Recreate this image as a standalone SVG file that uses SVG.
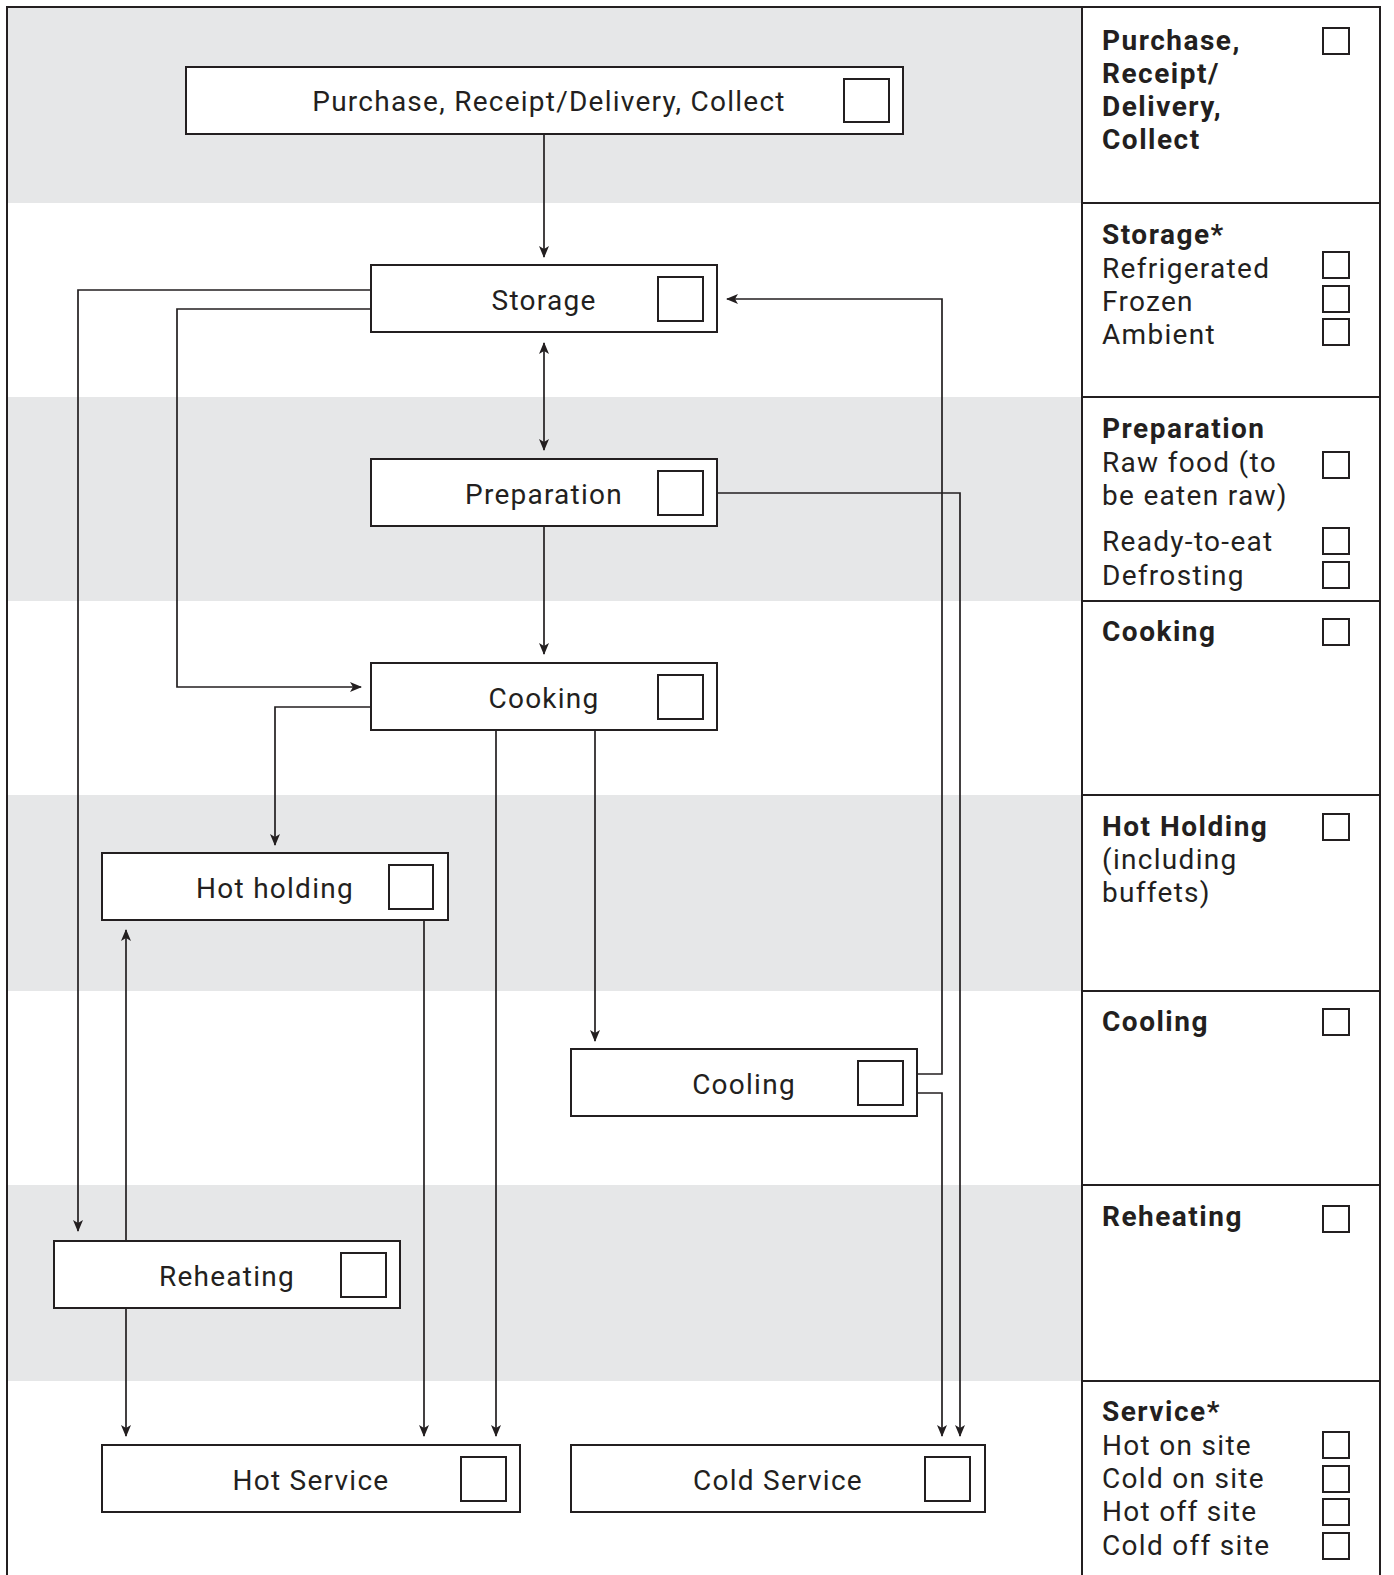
<svg xmlns="http://www.w3.org/2000/svg" width="1394" height="1575" viewBox="0 0 1394 1575">
<style>
.band{fill:#e6e7e8}
.frame{fill:none;stroke:#231f20;stroke-width:2}
.box{fill:#ffffff;stroke:#231f20;stroke-width:2}
.cb{fill:#ffffff;stroke:#231f20;stroke-width:2}
.lbl{font-family:Roboto,"Liberation Sans",sans-serif;font-size:28px;fill:#231f20;text-anchor:middle;letter-spacing:1.25px}
.rt{font-family:Roboto,"Liberation Sans",sans-serif;font-size:28px;fill:#231f20;letter-spacing:1.3px}
.rb{font-weight:bold;letter-spacing:1.5px}
.conn{fill:none;stroke:#231f20;stroke-width:1.7}
</style>
<defs>
<marker id="ah" markerWidth="12" markerHeight="10" refX="11" refY="5" orient="auto-start-reverse" markerUnits="userSpaceOnUse">
<path d="M0,0 L12,5 L0,10 L3,5 Z" fill="#231f20"/>
</marker>
</defs>
<rect width="1394" height="1575" fill="#ffffff"/>
<g id="bands">
<rect class="band" x="7" y="7" width="1075" height="196"/>
<rect class="band" x="7" y="397" width="1075" height="204"/>
<rect class="band" x="7" y="795" width="1075" height="196"/>
<rect class="band" x="7" y="1185" width="1075" height="196"/>
</g>
<g id="frame">
<path class="frame" d="M7,1575 V7 H1380 V1575"/>
<path class="frame" d="M1082,7 V1575"/>
<path class="frame" d="M1082,203 H1380 M1082,397 H1380 M1082,601 H1380 M1082,795 H1380 M1082,991 H1380 M1082,1185 H1380 M1082,1381 H1380"/>
</g>
<g id="connectors">
<path class="conn" d="M544,134 V257" marker-end="url(#ah)"/>
<path class="conn" d="M544,343 V450" marker-start="url(#ah)" marker-end="url(#ah)"/>
<path class="conn" d="M544,526 V654" marker-end="url(#ah)"/>
<path class="conn" d="M371,290 H78 V1231" marker-end="url(#ah)"/>
<path class="conn" d="M371,309 H177 V687 H361" marker-end="url(#ah)"/>
<path class="conn" d="M371,707 H275 V845" marker-end="url(#ah)"/>
<path class="conn" d="M496,730 V1436" marker-end="url(#ah)"/>
<path class="conn" d="M595,730 V1041" marker-end="url(#ah)"/>
<path class="conn" d="M424,920 V1436" marker-end="url(#ah)"/>
<path class="conn" d="M126,1241 V930" marker-end="url(#ah)"/>
<path class="conn" d="M126,1308 V1436" marker-end="url(#ah)"/>
<path class="conn" d="M917,1074 H942 V299 H727" marker-end="url(#ah)"/>
<path class="conn" d="M917,1093 H942 V1436" marker-end="url(#ah)"/>
<path class="conn" d="M717,493 H960 V1436" marker-end="url(#ah)"/>
</g>
<g id="node-purchase">
<rect class="box" x="186" y="67" width="717" height="67"/>
<text class="lbl" x="549" y="111">Purchase, Receipt/Delivery, Collect</text>
<rect class="cb" x="844" y="79" width="45" height="43"/>
</g>
<g id="node-storage">
<rect class="box" x="371" y="265" width="346" height="67"/>
<text class="lbl" x="544" y="310">Storage</text>
<rect class="cb" x="658" y="277" width="45" height="44"/>
</g>
<g id="node-preparation">
<rect class="box" x="371" y="459" width="346" height="67"/>
<text class="lbl" x="544" y="504">Preparation</text>
<rect class="cb" x="658" y="471" width="45" height="44"/>
</g>
<g id="node-cooking">
<rect class="box" x="371" y="663" width="346" height="67"/>
<text class="lbl" x="544" y="708">Cooking</text>
<rect class="cb" x="658" y="675" width="45" height="44"/>
</g>
<g id="node-hotholding">
<rect class="box" x="102" y="853" width="346" height="67"/>
<text class="lbl" x="275" y="898">Hot holding</text>
<rect class="cb" x="389" y="865" width="44" height="44"/>
</g>
<g id="node-cooling">
<rect class="box" x="571" y="1049" width="346" height="67"/>
<text class="lbl" x="744" y="1094">Cooling</text>
<rect class="cb" x="858" y="1061" width="45" height="44"/>
</g>
<g id="node-reheating">
<rect class="box" x="54" y="1241" width="346" height="67"/>
<text class="lbl" x="227" y="1286">Reheating</text>
<rect class="cb" x="341" y="1253" width="45" height="44"/>
</g>
<g id="node-hotservice">
<rect class="box" x="102" y="1445" width="418" height="67"/>
<text class="lbl" x="311" y="1490">Hot Service</text>
<rect class="cb" x="461" y="1457" width="45" height="44"/>
</g>
<g id="node-coldservice">
<rect class="box" x="571" y="1445" width="414" height="67"/>
<text class="lbl" x="778" y="1490">Cold Service</text>
<rect class="cb" x="925" y="1457" width="45" height="44"/>
</g>
<g id="legend">
<text class="rt rb" x="1102" y="50">Purchase,</text>
<text class="rt rb" x="1102" y="83">Receipt/</text>
<text class="rt rb" x="1102" y="116">Delivery,</text>
<text class="rt rb" x="1102" y="149">Collect</text>
<rect class="cb" x="1323" y="28" width="26" height="26"/>
<text class="rt rb" x="1102" y="244">Storage*</text>
<text class="rt" x="1102" y="278">Refrigerated</text>
<text class="rt" x="1102" y="311">Frozen</text>
<text class="rt" x="1102" y="344">Ambient</text>
<rect class="cb" x="1323" y="252" width="26" height="26"/>
<rect class="cb" x="1323" y="286" width="26" height="26"/>
<rect class="cb" x="1323" y="319" width="26" height="26"/>
<text class="rt rb" x="1102" y="438">Preparation</text>
<text class="rt" x="1102" y="472">Raw food (to</text>
<text class="rt" x="1102" y="505">be eaten raw)</text>
<text class="rt" x="1102" y="551">Ready-to-eat</text>
<text class="rt" x="1102" y="585">Defrosting</text>
<rect class="cb" x="1323" y="452" width="26" height="26"/>
<rect class="cb" x="1323" y="528" width="26" height="26"/>
<rect class="cb" x="1323" y="562" width="26" height="26"/>
<text class="rt rb" x="1102" y="641">Cooking</text>
<rect class="cb" x="1323" y="619" width="26" height="26"/>
<text class="rt rb" x="1102" y="836">Hot Holding</text>
<text class="rt" x="1102" y="869">(including</text>
<text class="rt" x="1102" y="902">buffets)</text>
<rect class="cb" x="1323" y="814" width="26" height="26"/>
<text class="rt rb" x="1102" y="1031">Cooling</text>
<rect class="cb" x="1323" y="1009" width="26" height="26"/>
<text class="rt rb" x="1102" y="1226">Reheating</text>
<rect class="cb" x="1323" y="1206" width="26" height="26"/>
<text class="rt rb" x="1102" y="1421">Service*</text>
<text class="rt" x="1102" y="1455">Hot on site</text>
<text class="rt" x="1102" y="1488">Cold on site</text>
<text class="rt" x="1102" y="1521">Hot off site</text>
<text class="rt" x="1102" y="1555">Cold off site</text>
<rect class="cb" x="1323" y="1432" width="26" height="26"/>
<rect class="cb" x="1323" y="1466" width="26" height="26"/>
<rect class="cb" x="1323" y="1499" width="26" height="26"/>
<rect class="cb" x="1323" y="1533" width="26" height="26"/>
</g>
</svg>
